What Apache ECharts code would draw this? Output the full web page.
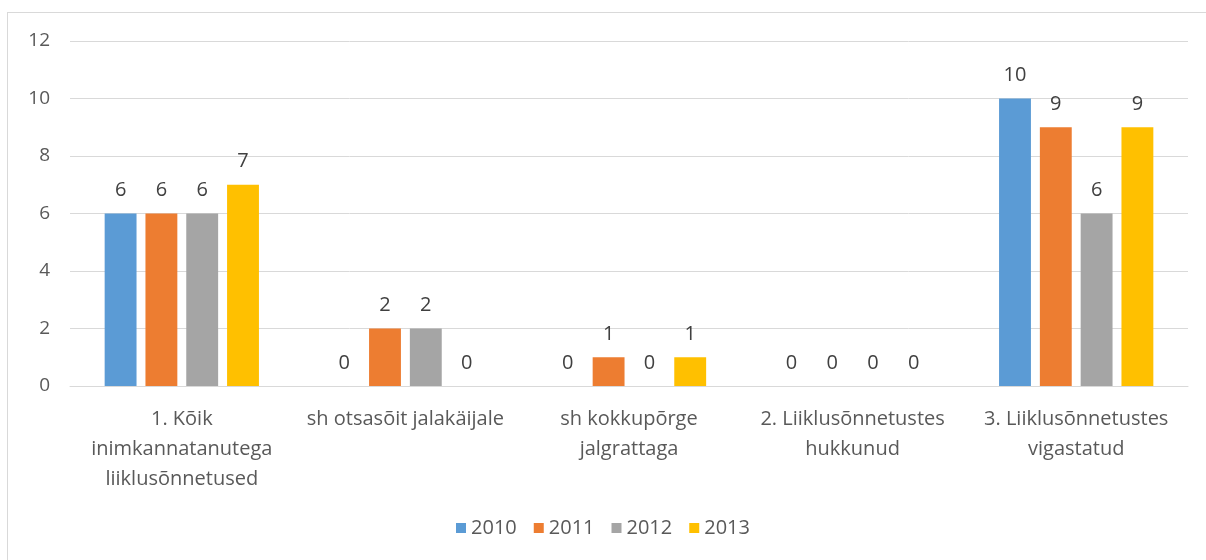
<!DOCTYPE html>
<html>
<head>
<meta charset="utf-8">
<script src="https://cdn.jsdelivr.net/npm/echarts@6/dist/echarts.min.js"></script>
<style>
  html, body { margin: 0; padding: 0; background: #fff; }
  .frame { position: absolute; left: 7px; top: 12px; width: 1300px; height: 700px; border: 1px solid #d9d9d9; }
  #chart { position: absolute; left: 0; top: 0; width: 1206px; height: 560px; }
</style>
</head>
<body>
<div class="frame"></div>
<div id="chart"></div>
<script>
const categories = [
  "1. Kõik\ninimkannatanutega\nliiklusõnnetused",
  "sh otsasõit jalakäijale",
  "sh kokkupõrge\njalgrattaga",
  "2. Liiklusõnnetustes\nhukkunud",
  "3. Liiklusõnnetustes\nvigastatud"
];
const years = ["2010", "2011", "2012", "2013"];
const values2010 = [6, 0, 0, 0, 10];
const values2011 = [6, 2, 1, 0, 9];
const values2012 = [6, 2, 0, 0, 6];
const values2013 = [7, 0, 1, 0, 9];
const colors = ["#5B9BD5", "#ED7D31", "#A5A5A5", "#FFC000"];

const font = "Open Sans, Noto Sans, sans-serif";
const allValues = [values2010, values2011, values2012, values2013];

let myChart = echarts.init(document.getElementById("chart"));
const options = {
  animation: false,
  color: colors,
  textStyle: { fontFamily: font },
  grid: { left: 70, right: 18, top: 41, bottom: 174 },
  legend: {
    bottom: 17,
    left: "center",
    icon: "rect",
    itemWidth: 10,
    itemHeight: 10,
    itemGap: 17,
    textStyle: { fontSize: 20, color: "#595959", fontFamily: font },
    data: years
  },
  xAxis: {
    type: "category",
    data: categories,
    axisLine: { lineStyle: { color: "#d9d9d9" } },
    axisTick: { show: false },
    axisLabel: {
      interval: 0,
      fontSize: 20,
      lineHeight: 30,
      margin: 18,
      color: "#595959",
      fontFamily: font
    }
  },
  yAxis: {
    type: "value",
    min: 0,
    max: 12,
    interval: 2,
    axisLine: { show: false },
    axisTick: { show: false },
    splitLine: { lineStyle: { color: "#d9d9d9" } },
    axisLabel: { fontSize: 19, color: "#595959", margin: 20, fontFamily: font }
  },
  series: years.map((y, i) => ({
    name: y,
    type: "bar",
    data: allValues[i],
    barGap: "28%",
    barCategoryGap: "31%",
    label: {
      show: true,
      position: "top",
      distance: 13,
      fontSize: 20,
      color: "#404040",
      fontFamily: font
    }
  }))
};
myChart.setOption(options);
</script>
</body>
</html>
